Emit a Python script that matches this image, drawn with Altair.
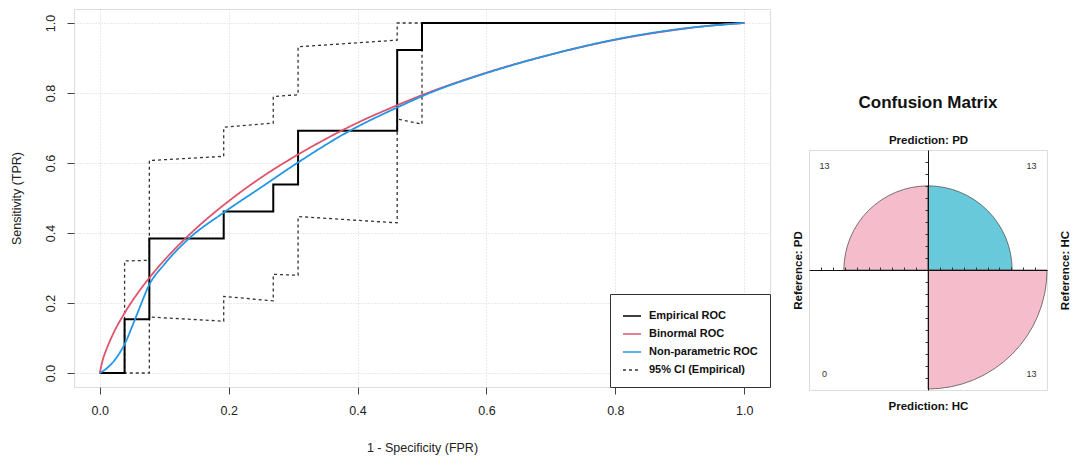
import math
import altair as alt
import pandas as pd

# ---------------- ROC data ----------------
series_names = ["Empirical ROC", "Binormal ROC", "Non-parametric ROC", "95% CI (Empirical)"]
series_colors = ["#000000", "#DF536B", "#2297E6", "#333333"]

emp_fpr = [0, 0.0385, 0.0385, 0.0769, 0.0769, 0.1923, 0.1923, 0.2692, 0.2692, 0.3077, 0.3077, 0.4615, 0.4615, 0.5, 0.5, 1.0]
emp_tpr = [0, 0, 0.1538, 0.1538, 0.3846, 0.3846, 0.4615, 0.4615, 0.5385, 0.5385, 0.6923, 0.6923, 0.9231, 0.9231, 1.0, 1.0]

ci_up_fpr = [0, 0.0385, 0.0385, 0.0769, 0.0769, 0.1923, 0.1923, 0.2692, 0.2692, 0.3077, 0.3077, 0.4615, 0.4615, 1.0]
ci_up_tpr = [0, 0, 0.32, 0.322, 0.607, 0.619, 0.702, 0.714, 0.79, 0.795, 0.932, 0.951, 1.0, 1.0]

ci_lo_fpr = [0, 0.0769, 0.0769, 0.1923, 0.1923, 0.2692, 0.2692, 0.3077, 0.3077, 0.4615, 0.4615, 0.5, 0.5, 1.0]
ci_lo_tpr = [0, 0, 0.16, 0.148, 0.219, 0.206, 0.282, 0.279, 0.447, 0.429, 0.726, 0.711, 1.0, 1.0]

bin_fpr = [0, 0.005, 0.01, 0.02, 0.04, 0.06, 0.08, 0.1, 0.15, 0.2, 0.25, 0.3, 0.35, 0.4, 0.45, 0.5, 0.6, 0.7, 0.8, 0.9, 0.95, 1.0]
bin_tpr = [0, 0.040, 0.066, 0.109, 0.176, 0.231, 0.279, 0.322, 0.414, 0.491, 0.558, 0.616, 0.668, 0.715, 0.756, 0.794, 0.858, 0.910, 0.952, 0.982, 0.993, 1.0]

np_fpr = [0, 0.01, 0.02, 0.03, 0.04, 0.05, 0.06, 0.077, 0.1, 0.137, 0.192, 0.25, 0.308, 0.383, 0.462, 0.512, 0.6, 0.7, 0.8, 0.9, 1.0]
np_tpr = [0, 0.012, 0.03, 0.055, 0.088, 0.132, 0.178, 0.253, 0.31, 0.382, 0.458, 0.53, 0.602, 0.687, 0.759, 0.80, 0.857, 0.91, 0.953, 0.983, 1.0]

roc_ticks = [0.0, 0.2, 0.4, 0.6, 0.8, 1.0]

# ---------------- Confusion matrix data ----------------
cm_quadrants = ["TL", "TR", "BL", "BR"]
cm_counts = [13, 13, 0, 13]
cm_std = [0.5, 0.5, 0.0, 1.0]          # standardised cell proportions (fourfold)
cm_colors = ["#F5BCCB", "#67C9DA", "#F5BCCB", "#F5BCCB"]
cm_ticks = [-0.9, -0.8, -0.7, -0.6, -0.5, -0.4, -0.3, -0.2, -0.1, 0.1, 0.2, 0.3, 0.4, 0.5, 0.6, 0.7, 0.8, 0.9]

rows = []
def add(series, lid, xs, ys):
    for i, (a, b) in enumerate(zip(xs, ys)):
        rows.append(dict(series=series, line=lid, idx=i, fpr=a, tpr=b))

add(series_names[3], "ci_up", ci_up_fpr, ci_up_tpr)
add(series_names[3], "ci_lo", ci_lo_fpr, ci_lo_tpr)
add(series_names[0], "emp", emp_fpr, emp_tpr)
add(series_names[1], "bin", bin_fpr, bin_tpr)
add(series_names[2], "np", np_fpr, np_tpr)
roc_df = pd.DataFrame(rows)

NARROW = "Liberation Sans Narrow, Liberation Sans, Arial"
SANS = "Liberation Sans, Arial"

xs = alt.Scale(domain=[-0.04, 1.04], nice=False, zero=False)
ys = alt.Scale(domain=[-0.04, 1.04], nice=False, zero=False)

legend = alt.Legend(title=None, orient="bottom-right", offset=0, strokeColor="#333",
                    fillColor="white", padding=12, labelFont=SANS, labelFontWeight="bold",
                    labelFontSize=11, labelColor="#111", symbolType="stroke", symbolSize=324,
                    symbolStrokeWidth=1.6, rowPadding=3, labelOffset=7)

base = alt.Chart(roc_df).encode(
    x=alt.X("fpr:Q", scale=xs, axis=alt.Axis(
        values=roc_ticks, format=".1f", title="1 - Specificity (FPR)", grid=True,
        gridDash=[1, 2], gridColor="#d4d4d4", tickSize=7, tickColor="#444", domain=False,
        labelFont=NARROW, labelFontSize=12.5, labelColor="#222", labelPadding=10,
        titleFont=NARROW, titleFontSize=12.5, titleFontWeight="normal", titleColor="#222",
        titlePadding=25)),
    y=alt.Y("tpr:Q", scale=ys, axis=alt.Axis(
        values=roc_ticks, format=".1f", title="Sensitivity (TPR)", grid=True,
        gridDash=[1, 2], gridColor="#d4d4d4", tickSize=7, tickColor="#444", domain=False,
        labelFont=NARROW, labelFontSize=12.5, labelColor="#222", labelPadding=10,
        labelAngle=-90, labelAlign="center", labelBaseline="bottom",
        titleFont=NARROW, titleFontSize=12.5, titleFontWeight="normal", titleColor="#222",
        titlePadding=21)),
    color=alt.Color("series:N", scale=alt.Scale(domain=series_names, range=series_colors), legend=legend),
    strokeDash=alt.StrokeDash("series:N", scale=alt.Scale(domain=series_names,
                              range=[[1, 0], [1, 0], [1, 0], [3, 3]]), legend=legend),
    detail="line:N",
    order="idx:Q",
)

ci = base.transform_filter(alt.datum.series == series_names[3]).mark_line(strokeWidth=1.3)
emp = base.transform_filter(alt.datum.series == series_names[0]).mark_line(strokeWidth=2)
binl = base.transform_filter(alt.datum.series == series_names[1]).mark_line(strokeWidth=1.8, interpolate="monotone")
npl = base.transform_filter(alt.datum.series == series_names[2]).mark_line(strokeWidth=1.8, interpolate="monotone")

roc = alt.layer(ci, emp, binl, npl).properties(width=696, height=378)

# ---------------- Confusion matrix (fourfold) ----------------
sx = {"TL": -1, "TR": 1, "BL": -1, "BR": 1}
sy = {"TL": 1, "TR": 1, "BL": -1, "BR": -1}
th = {"TR": 0.0, "BR": 0.5, "BL": 1.0, "TL": 1.5}
cm_df = pd.DataFrame({
    "quad": cm_quadrants,
    "count": cm_counts,
    "std": cm_std,
})
cm_df["cx"] = 0.0
cm_df["cy"] = 0.0
cm_df["t1"] = [th[q] * math.pi for q in cm_quadrants]
cm_df["t2"] = [(th[q] + 0.5) * math.pi for q in cm_quadrants]
cm_df["lx"] = [sx[q] * 0.87 for q in cm_quadrants]
cm_df["ly"] = [sy[q] * 0.87 for q in cm_quadrants]

W, H = 238, 240
cxs = alt.Scale(domain=[-1, 1], nice=False, zero=False)
cys = alt.Scale(domain=[-1, 1], nice=False, zero=False)

title_axis = dict(labels=False, ticks=False, domain=False, grid=False,
                  titleFont=SANS, titleFontSize=11.5, titleFontWeight="bold", titleColor="#111")

arcs = alt.Chart(cm_df).mark_arc(stroke="#555", strokeWidth=0.8).encode(
    x=alt.X("cx:Q", scale=cxs, axis=alt.Axis(orient="top", title="Prediction: PD", titlePadding=5, **title_axis)),
    y=alt.Y("cy:Q", scale=cys, axis=alt.Axis(orient="left", title="Reference: PD", titlePadding=6, **title_axis)),
    theta=alt.Theta("t1:Q", scale=None),
    theta2=alt.Theta2("t2:Q"),
    radius=alt.Radius("std:Q", scale=alt.Scale(type="sqrt", domain=[0, 1], range=[0, 119])),
    fill=alt.Fill("quad:N", scale=alt.Scale(domain=cm_quadrants, range=cm_colors), legend=None),
)

counts = alt.Chart(cm_df).mark_text(font=SANS, fontSize=9, color="#333").encode(
    x=alt.X("lx:Q", scale=cxs, axis=alt.Axis(orient="bottom", title="Prediction: HC", titlePadding=10, **title_axis)),
    y=alt.Y("ly:Q", scale=cys, axis=alt.Axis(orient="right", title="Reference: HC", titleAngle=270, titlePadding=23, **title_axis)),
    text="count:Q",
)

cross = alt.Chart(cm_df).mark_point(opacity=0).encode(
    x=alt.X("cx:Q", scale=cxs, axis=alt.Axis(orient="top", offset=-H / 2, values=cm_ticks, labels=False,
                                              title=None, grid=False, domain=True, domainColor="#111",
                                              domainWidth=1, tickColor="#333", tickSize=3, zindex=1)),
    y=alt.Y("cy:Q", scale=cys, axis=alt.Axis(orient="left", offset=-W / 2, values=cm_ticks, labels=False,
                                              title=None, grid=False, domain=True, domainColor="#111",
                                              domainWidth=1, tickColor="#333", tickSize=3, zindex=1)),
)

cm = alt.layer(arcs, counts, cross).resolve_axis(x="independent", y="independent").properties(
    width=W, height=H,
    title=alt.TitleParams("Confusion Matrix", font=SANS, fontSize=17, fontWeight="bold",
                          color="#111", anchor="middle", frame="group", offset=22),
)

spacer = alt.Chart(pd.DataFrame({"a": [0]})).mark_point(opacity=0).properties(
    width=1, height=84, view=alt.ViewBackground(stroke=None))

chart = alt.hconcat(roc, alt.vconcat(spacer, cm, spacing=0), spacing=20).resolve_scale(
    color="independent", strokeDash="independent", fill="independent"
).properties(
    padding={"left": 9, "top": 8, "right": 0, "bottom": 0}
).configure_view(stroke="#333", strokeWidth=1.2).configure(font=SANS)

chart.save("out.html", embed_options={"renderer": "svg", "actions": False})
